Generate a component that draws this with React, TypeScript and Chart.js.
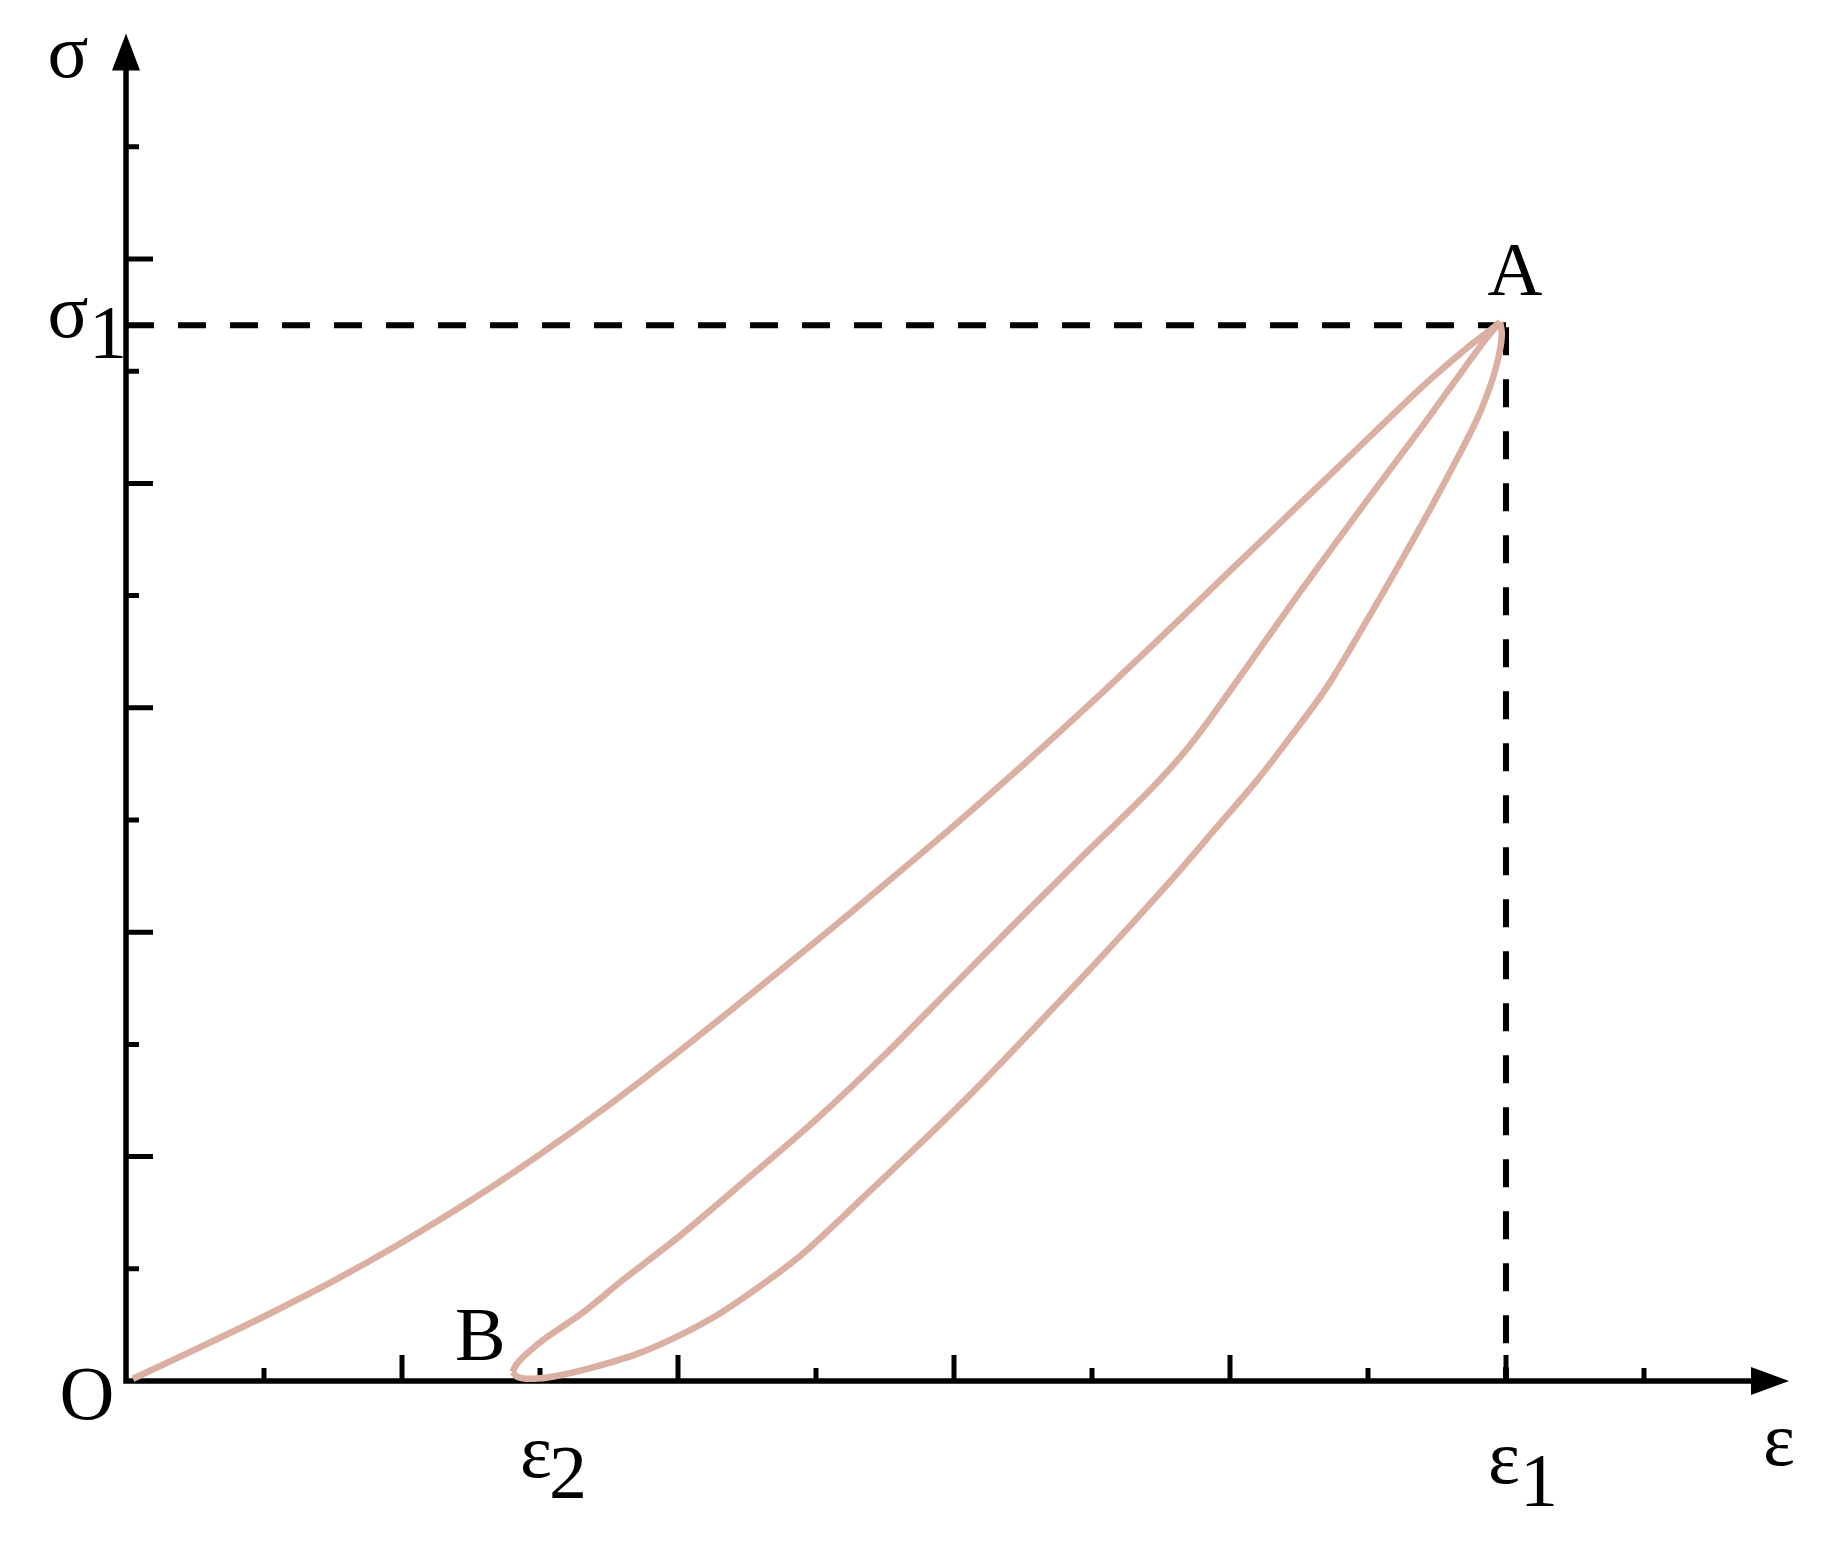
import React, { useEffect, useRef } from "react";
import { Chart, registerables } from "chart.js";

Chart.register(...registerables);

// ---- data (strain ε and stress σ, in tick units) ----
const loadingX = [0.05, 0.5, 1.0, 1.5, 2.0, 2.5, 3.0, 3.5, 4.0, 4.5, 5.0, 5.5, 6.0, 6.5, 7.0, 7.5, 8.0, 8.5, 9.0, 9.4, 9.7, 9.9, 9.957];
const loadingY = [0.02, 0.28, 0.575, 0.89, 1.235, 1.61, 2.02, 2.46, 2.93, 3.42, 3.92, 4.43, 4.95, 5.49, 6.05, 6.63, 7.22, 7.81, 8.4, 8.87, 9.19, 9.38, 9.439];

const unloadX = [9.957, 9.85, 9.7, 9.4, 9.0, 8.5, 8.0, 7.7, 7.4, 7.0, 6.5, 6.0, 5.5, 5.0, 4.5, 4.0, 3.6, 3.3, 3.05, 2.9, 2.83, 2.8];
const unloadY = [9.439, 9.28, 9.03, 8.52, 7.86, 7.02, 6.15, 5.65, 5.24, 4.76, 4.15, 3.53, 2.91, 2.33, 1.8, 1.28, 0.9, 0.6, 0.39, 0.24, 0.15, 0.08];

const reloadX = [2.8, 2.84, 2.95, 3.1, 3.35, 3.7, 4.0, 4.3, 4.6, 4.9, 5.2, 5.5, 5.8, 6.1, 6.4, 6.7, 7.0, 7.3, 7.6, 7.9, 8.2, 8.45, 8.7, 8.95, 9.2, 9.45, 9.65, 9.8, 9.9, 9.95, 9.97, 9.957];
const reloadY = [0.08, 0.035, 0.02, 0.04, 0.11, 0.24, 0.4, 0.6, 0.85, 1.13, 1.47, 1.82, 2.17, 2.53, 2.91, 3.3, 3.69, 4.09, 4.5, 4.93, 5.36, 5.76, 6.18, 6.69, 7.22, 7.77, 8.23, 8.6, 8.92, 9.15, 9.33, 9.439];

const xTickValues = [1, 2, 3, 4, 5, 6, 7, 8, 9, 10, 11];
const yTickValues = [1, 2, 3, 4, 5, 6, 7, 8, 9, 10, 11];
const axisMax = 12;
const sigma1 = 9.41;
const eps1 = 10;
const eps2 = 3;

const curveColor = "#dbb0a3";
const ink = "#000000";
const serif = '"Liberation Serif", "Times New Roman", serif';

const toPoints = (xs: number[], ys: number[]) => xs.map((x, i) => ({ x, y: ys[i] }));

const decorPlugin = {
  id: "decor",
  beforeDatasetsDraw(chart: any) {
    const { ctx, chartArea, scales } = chart;
    const xs = scales.x;
    const ys = scales.y;
    const x0 = xs.getPixelForValue(0);
    const y0 = ys.getPixelForValue(0);
    ctx.save();
    ctx.strokeStyle = ink;
    ctx.fillStyle = ink;
    ctx.lineCap = "butt";

    // dashed guides
    ctx.lineWidth = 6;
    ctx.setLineDash([28, 24]);
    const ys1 = ys.getPixelForValue(sigma1);
    const xe1 = xs.getPixelForValue(eps1);
    ctx.beginPath();
    ctx.moveTo(x0, ys1);
    ctx.lineTo(xe1, ys1);
    ctx.stroke();
    ctx.beginPath();
    ctx.moveTo(xe1, ys1 + 2);
    ctx.lineTo(xe1, y0);
    ctx.stroke();
    ctx.setLineDash([]);

    // axes
    const yTip = chartArea.top - 1;
    const xTip = chartArea.right + 7;
    ctx.lineWidth = 5.5;
    ctx.beginPath();
    ctx.moveTo(x0, y0 + 2.75);
    ctx.lineTo(x0, yTip + 30);
    ctx.moveTo(x0 - 2.75, y0);
    ctx.lineTo(xTip - 30, y0);
    ctx.stroke();

    // arrow heads
    ctx.beginPath();
    ctx.moveTo(x0, yTip);
    ctx.lineTo(x0 + 14, yTip + 37);
    ctx.lineTo(x0 - 14, yTip + 37);
    ctx.closePath();
    ctx.fill();
    ctx.beginPath();
    ctx.moveTo(xTip, y0);
    ctx.lineTo(xTip - 38, y0 + 14);
    ctx.lineTo(xTip - 38, y0 - 14);
    ctx.closePath();
    ctx.fill();

    // ticks (inside the axes)
    ctx.lineWidth = 5;
    ctx.beginPath();
    xTickValues.forEach((v) => {
      const px = xs.getPixelForValue(v);
      const len = v % 2 === 0 ? 26 : 13;
      ctx.moveTo(px, y0);
      ctx.lineTo(px, y0 - len);
    });
    yTickValues.forEach((v) => {
      const py = ys.getPixelForValue(v);
      const len = v % 2 === 0 ? 27 : 13;
      ctx.moveTo(x0, py);
      ctx.lineTo(x0 + len, py);
    });
    ctx.stroke();
    ctx.restore();
  },
  afterDatasetsDraw(chart: any) {
    const { ctx, chartArea, scales } = chart;
    const xs = scales.x;
    const ys = scales.y;
    const x0 = xs.getPixelForValue(0);
    const y0 = ys.getPixelForValue(0);
    const ys1 = ys.getPixelForValue(sigma1);
    const xe1 = xs.getPixelForValue(eps1);
    const xe2 = xs.getPixelForValue(eps2);
    const xB = xs.getPixelForValue(unloadX[unloadX.length - 1]);
    ctx.save();
    ctx.fillStyle = ink;
    ctx.font = `76px ${serif}`;
    ctx.textAlign = "center";
    ctx.textBaseline = "alphabetic";
    const t = (s: string, x: number, y: number) => ctx.fillText(s, x, y);
    t("σ", x0 - 58, chartArea.top + 42);
    t("σ", x0 - 58, ys1 + 12);
    t("1", x0 - 18, ys1 + 33);
    t("O", x0 - 39, y0 + 38);
    t("B", xB - 32, y0 - 21);
    t("A", xe1 + 9, ys1 - 30);
    t("ε", xe2 - 4, y0 + 96);
    t("2", xe2 + 28, y0 + 117);
    t("ε", xe1 - 2, y0 + 102);
    t("1", xe1 + 33, y0 + 125);
    t("ε", chartArea.right - 3, y0 + 84);
    ctx.restore();
  },
};

export default function App() {
  const canvasRef = useRef<HTMLCanvasElement | null>(null);

  useEffect(() => {
    const canvas = canvasRef.current;
    if (!canvas) return;
    const common = {
      showLine: true,
      borderColor: curveColor,
      backgroundColor: curveColor,
      borderWidth: 6.5,
      pointRadius: 0,
      pointHoverRadius: 0,
      tension: 0.3,
      fill: false,
      clip: false as any,
    };
    const chart = new Chart(canvas, {
      type: "scatter",
      data: {
        datasets: [
          { label: "loading", data: toPoints(loadingX, loadingY), ...common },
          { label: "unloading", data: toPoints(unloadX, unloadY), ...common },
          { label: "reloading", data: toPoints(reloadX, reloadY), ...common },
        ],
      },
      options: {
        animation: false,
        responsive: false,
        devicePixelRatio: 1,
        events: [],
        layout: { padding: { left: 126, right: 45, top: 34.6, bottom: 160 } },
        plugins: { legend: { display: false }, tooltip: { enabled: false }, title: { display: false } },
        scales: {
          x: { type: "linear", min: 0, max: axisMax, display: false },
          y: { type: "linear", min: 0, max: axisMax, display: false },
        },
      },
      plugins: [decorPlugin],
    });
    return () => chart.destroy();
  }, []);

  return (
    <div style={{ position: "fixed", left: 0, top: 0, width: 1827, height: 1541, background: "#ffffff" }}>
      <canvas ref={canvasRef} width={1827} height={1541} style={{ width: 1827, height: 1541, display: "block" }} />
    </div>
  );
}
